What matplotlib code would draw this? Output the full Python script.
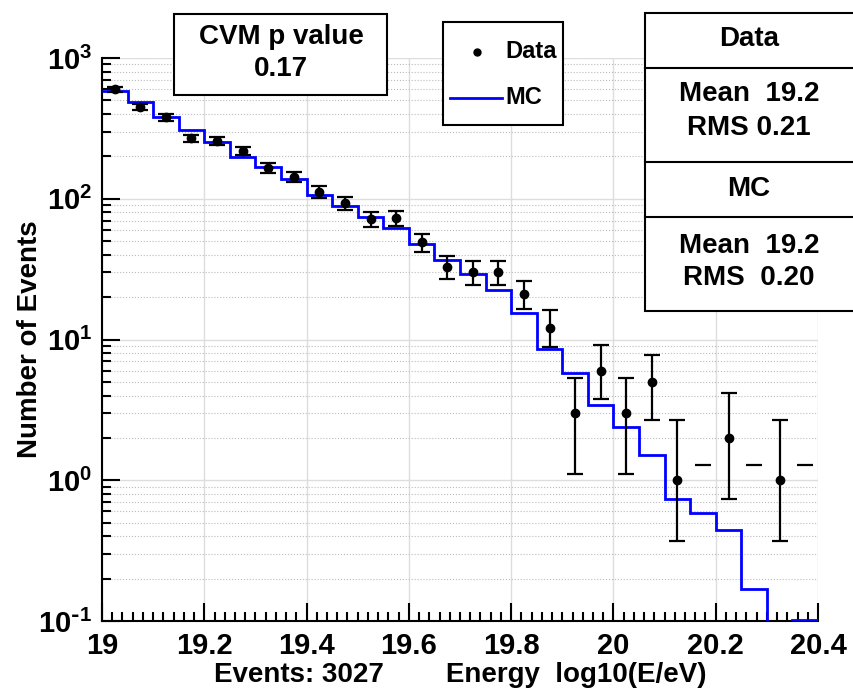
import numpy as np
import matplotlib
matplotlib.use("Agg")
import matplotlib.pyplot as plt
from matplotlib.patches import Rectangle
from matplotlib.lines import Line2D
from matplotlib.ticker import LogLocator, NullFormatter, FuncFormatter

plt.rcParams['font.family'] = ['Liberation Sans', 'DejaVu Sans']
plt.rcParams['font.weight'] = 'bold'
plt.rcParams['axes.unicode_minus'] = False

# energy bins, log10(E/eV)
bin_edges = [19.00, 19.05, 19.10, 19.15, 19.20, 19.25, 19.30, 19.35, 19.40, 19.45,
             19.50, 19.55, 19.60, 19.65, 19.70, 19.75, 19.80, 19.85, 19.90, 19.95,
             20.00, 20.05, 20.10, 20.15, 20.20, 20.25, 20.30, 20.35, 20.40]

# data counts per bin (0 = empty bin)
data_counts = [600, 450, 378, 268, 258, 218, 166, 143, 112, 93,
               72, 73, 49, 33, 30, 30, 21, 12, 3, 6,
               3, 5, 1, 0, 2, 0, 1, 0]
err_lo = [24, 21, 19, 16, 16, 15, 13, 12, 10.5, 9.5,
          8.5, 8.5, 7, 6, 5.5, 5.5, 4.6, 3.2, 1.9, 2.2,
          1.9, 2.3, 0.63, 0, 1.26, 0, 0.63, 0]
err_hi = [25, 22, 20, 17, 17, 15.5, 13.5, 12.5, 11, 10,
          9, 9, 7.5, 6.5, 6, 6, 5, 4.2, 2.3, 3.2,
          2.3, 2.8, 1.7, 0, 2.2, 0, 1.7, 0]
empty_limit = 1.28

# MC histogram (normalised to data)
mc_counts = [585, 484, 383, 308, 253, 198, 168, 138, 106, 89,
             74, 62, 48, 37, 29, 22.5, 15.4, 8.6, 5.8, 3.4,
             2.4, 1.5, 0.74, 0.59, 0.44, 0.17, 0.05, 0.102]

xticks = [19, 19.2, 19.4, 19.6, 19.8, 20, 20.2, 20.4]
xticklabels = ['19', '19.2', '19.4', '19.6', '19.8', '20', '20.2', '20.4']

W, H = 854, 694
fig = plt.figure(figsize=(W / 100, H / 100), dpi=100)


def fx(px):
    return px / W


def fy(py):
    return 1 - py / H


def pow10(v, pos):
    e = int(round(np.log10(v)))
    if e < 0:
        return r'$\mathdefault{10^{\text{-}%d}}$' % (-e)
    return r'$\mathdefault{10^{%d}}$' % e


ax = fig.add_axes([fx(102), fy(621), (818 - 102) / W, (621 - 58) / H])

edges = np.array(bin_edges)
centers = (edges[:-1] + edges[1:]) / 2
counts = np.array(data_counts, dtype=float)
lo = np.array(err_lo)
hi = np.array(err_hi)
filled = counts > 0

ax.stairs(mc_counts, edges, color='#0000ff', lw=2, baseline=None, zorder=3)
ax.errorbar(centers[filled], counts[filled], yerr=[lo[filled], hi[filled]],
            fmt='o', color='k', ms=6, elinewidth=1.6, capsize=6, capthick=1.6, zorder=4)
ax.plot(centers[~filled], np.full((~filled).sum(), empty_limit), ls='none',
        marker='_', ms=12, mew=1.6, color='k', zorder=4)

ax.set_yscale('log')
ax.set_xlim(19, 20.4)
ax.set_ylim(0.1, 1000)
ax.set_xticks(xticks)
ax.set_xticklabels(xticklabels)
ax.set_xticks(np.arange(19, 20.401, 0.02), minor=True)
ax.yaxis.set_major_locator(LogLocator(base=10, numticks=10))
ax.yaxis.set_major_formatter(FuncFormatter(pow10))
ax.yaxis.set_minor_locator(LogLocator(base=10, subs=np.arange(2, 10), numticks=20))
ax.yaxis.set_minor_formatter(NullFormatter())

ax.grid(True, which='major', axis='both', color='#dddddd', lw=1, ls='-', zorder=0)
ax.grid(True, which='minor', axis='y', color='#bbbbbb', lw=0.8, ls=':', zorder=0)
ax.set_axisbelow(True)

for s in ['top', 'right']:
    ax.spines[s].set_visible(False)
for s in ['left', 'bottom']:
    ax.spines[s].set_linewidth(1.5)
ax.tick_params(which='both', direction='in', width=1.5, labelsize=21)
ax.tick_params(which='major', length=13)
ax.tick_params(axis='x', which='major', pad=8)
ax.tick_params(axis='y', which='major', pad=7)
ax.tick_params(which='minor', length=6.5)

ax.set_ylabel('Number of Events', fontsize=20, fontweight='bold')
ax.yaxis.set_label_coords(-0.082, 0.5)
ax.set_xlabel('Events: 3027        Energy  log10(E/eV)', fontsize=20, fontweight='bold', labelpad=1)

# CVM box
fig.add_artist(Rectangle((fx(174), fy(95)), (387 - 174) / W, (95 - 14) / H,
                         transform=fig.transFigure, fill=True, fc='white', ec='k', lw=1.5))
fig.text(fx(281), fy(37), 'CVM p value', ha='center', va='center', fontsize=20)
fig.text(fx(281), fy(69), '0.17', ha='center', va='center', fontsize=20)

# legend box
fig.add_artist(Rectangle((fx(443), fy(125)), (563 - 443) / W, (125 - 22) / H,
                         transform=fig.transFigure, fill=True, fc='white', ec='k', lw=1.5))
fig.add_artist(Line2D([fx(477)], [fy(52)], marker='o', ms=5, color='k',
                      transform=fig.transFigure))
fig.text(fx(505), fy(52), 'Data', ha='left', va='center', fontsize=17)
fig.add_artist(Line2D([fx(450), fx(502)], [fy(98), fy(98)], color='#0000ff', lw=2,
                      transform=fig.transFigure))
fig.text(fx(505), fy(98), 'MC', ha='left', va='center', fontsize=17)

# stats box
fig.add_artist(Rectangle((fx(645), fy(311)), (860 - 645) / W, (311 - 13) / H,
                         transform=fig.transFigure, fill=True, fc='white', ec='k', lw=1.5))
for yy in [68, 162, 217]:
    fig.add_artist(Line2D([fx(645), 1.0], [fy(yy), fy(yy)], color='k', lw=1.5,
                          transform=fig.transFigure))
stats_lines = [('Data', 39), ('Mean  19.2', 94), ('RMS 0.21', 128),
               ('MC', 189), ('Mean  19.2', 246), ('RMS  0.20', 278)]
for txt, yy in stats_lines:
    fig.text(fx(749), fy(yy), txt, ha='center', va='center', fontsize=20)

fig.savefig('out.png', dpi=100)
